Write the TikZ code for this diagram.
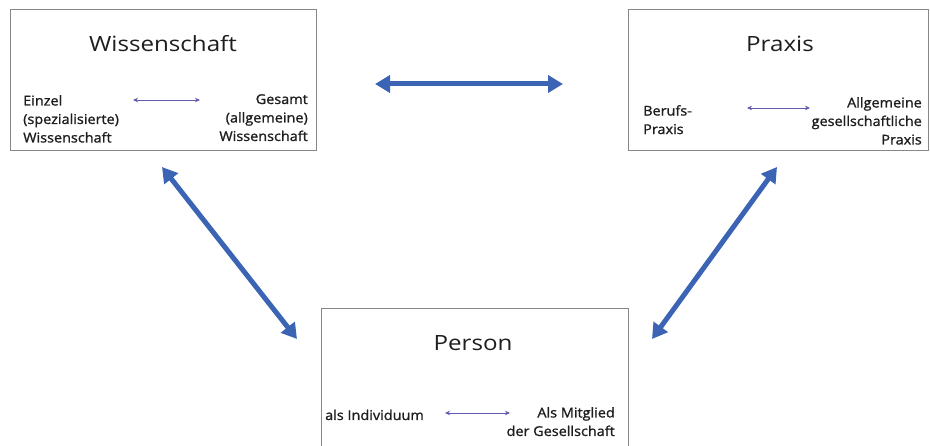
\documentclass[tikz,border=0pt]{standalone}
\usepackage{fontspec}
\setmainfont{Open Sans}
\newfontfamily\titlefont[FakeStretch=1.15]{Open Sans}
\newfontfamily\smallfont[FakeBold=1.2,FakeStretch=1.07]{Open Sans}
\usetikzlibrary{arrows.meta}
\definecolor{bigblue}{RGB}{59,100,180}
\definecolor{smallblue}{RGB}{95,90,175}
\definecolor{boxgray}{RGB}{135,135,135}
\definecolor{txt}{RGB}{30,30,30}
\begin{document}
\begin{tikzpicture}[x=1pt,y=-1pt,
  box/.style={draw=boxgray, line width=1.2pt, anchor=north west, inner sep=0pt},
  title/.style={font=\titlefont\fontsize{21}{26}\selectfont, text=txt, anchor=base, inner sep=0pt},
  small/.style={font=\smallfont\fontsize{13.5}{18.5}\selectfont, text=txt, inner sep=0pt},
  bigarrow/.style={draw=bigblue, line width=5pt, {Triangle[length=15pt,width=17pt]}-{Triangle[length=15pt,width=17pt]}},
  smallarrow/.style={draw=smallblue, line width=0.8pt, {Stealth[length=5pt,width=4.5pt]}-{Stealth[length=5pt,width=4.5pt]}}]
\useasboundingbox[fill=white] (0,0) rectangle (930,446);

% boxes
\node[box, minimum width=306pt, minimum height=141pt] (wiss) at (10,9) {};
\node[box, minimum width=300pt, minimum height=141pt] (prax) at (628,9) {};
\node[box, minimum width=307pt, minimum height=150pt] (pers) at (321,308) {};

% titles
\node[title] (wisst) at (163,52) {Wissenschaft};
\node[title] (praxt) at (780,52) {Praxis};
\node[title] (perst) at (473,351) {Person};

% Wissenschaft texts
\node[small, anchor=north west, align=left] (einzel) at (23,95) {Einzel\\(spezialisierte)\\Wissenschaft};
\node[small, anchor=north east, align=right] (gesamt) at (308,94) {Gesamt\\(allgemeine)\\Wissenschaft};
\coordinate (w1) at (133,100);
\coordinate (w2) at (200,100);
\draw[smallarrow] (w1) -- (w2);

% Praxis texts
\node[small, anchor=north west, align=left] (berufs) at (643,105) {Berufs-\\Praxis};
\node[small, anchor=north east, align=right] (allg) at (922,97) {Allgemeine\\gesellschaftliche\\Praxis};
\coordinate (p1) at (747,108);
\coordinate (p2) at (810,108);
\draw[smallarrow] (p1) -- (p2);

% Person texts
\node[small, anchor=base west] (indiv) at (325,420) {als Individuum};
\node[small, anchor=north east, align=right] (mitgl) at (615,407) {Als Mitglied\\der Gesellschaft};
\coordinate (q1) at (445,413);
\coordinate (q2) at (510,413);
\draw[smallarrow] (q1) -- (q2);

% big arrows
\coordinate (h1) at (375,84);
\coordinate (h2) at (563,84);
\draw[bigarrow] (h1) -- (h2);
\coordinate (l1) at (162,167);
\coordinate (l2) at (297,339);
\draw[bigarrow] (l1) -- (l2);
\coordinate (r1) at (777,167);
\coordinate (r2) at (652,339);
\draw[bigarrow] (r1) -- (r2);
\end{tikzpicture}
\end{document}
